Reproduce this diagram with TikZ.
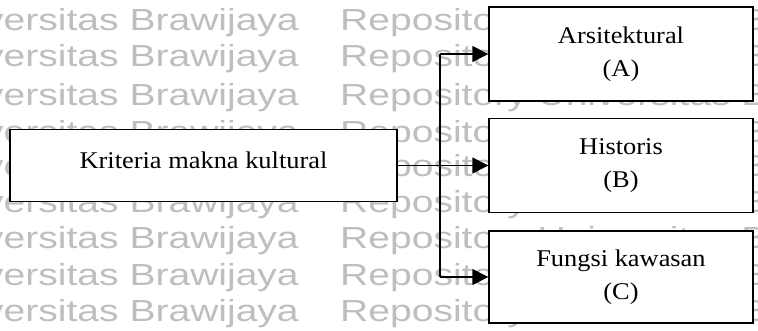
\documentclass[tikz,border=0pt]{standalone}
\usepackage{fontspec}
\setmainfont[FakeStretch=1.1]{Liberation Serif}
\newfontfamily\wmfont[FakeStretch=1.28]{Liberation Sans}
\usetikzlibrary{arrows.meta}
\definecolor{wmgray}{RGB}{190,190,190}
\tikzset{
  box/.style={draw, line width=1.4pt, fill=white, align=center, inner sep=0pt,
    font=\fontsize{24}{33}\selectfont},
  link/.style={line width=1.4pt},
  arr/.style={link, -{Triangle[length=16pt,width=16pt]}},
  wm/.style={anchor=base west, inner sep=0pt, text=wmgray,
    font=\wmfont\fontsize{30.5}{35}\selectfont}
}
\begin{document}
\begin{tikzpicture}[x=1pt,y=-1pt]
\useasboundingbox (0,0) rectangle (758,331);
% repository watermark behind the chart
\begin{scope}
  \clip (0,0) rectangle (758,331);
  \foreach \r [count=\i] in {31,67,106,143,177,213,249,285,321} {
    \node[wm] (wl\i) at (-16,\r) {versitas Brawijaya};
    \node[wm] (wr\i) at (340,\r) {Repository Universitas Brawijaya};
  }
\end{scope}
% criterion and its three aspects
\node[box, minimum width=387pt, minimum height=72pt] (k) at (203.5,165.5)
  {\raisebox{10pt}{Kriteria makna kultural}};
\node[box, minimum width=264pt, minimum height=94pt] (a) at (621,54)
  {Arsitektural\\(A)};
\node[box, minimum width=264pt, minimum height=94pt] (b) at (621,165.5)
  {\raisebox{3pt}{Historis}\\\raisebox{3pt}{(B)}};
\node[box, minimum width=264pt, minimum height=92pt] (c) at (621,277)
  {Fungsi kawasan\\(C)};
% branching connectors
\coordinate (jx) at (440,165.5);
\draw[arr] (k.east) -- (b.west);
\draw[link] (jx |- a.west) -- (jx |- c.west);
\draw[arr] (jx |- a.west) -- (a.west);
\draw[arr] (jx |- c.west) -- (c.west);
\end{tikzpicture}
\end{document}
